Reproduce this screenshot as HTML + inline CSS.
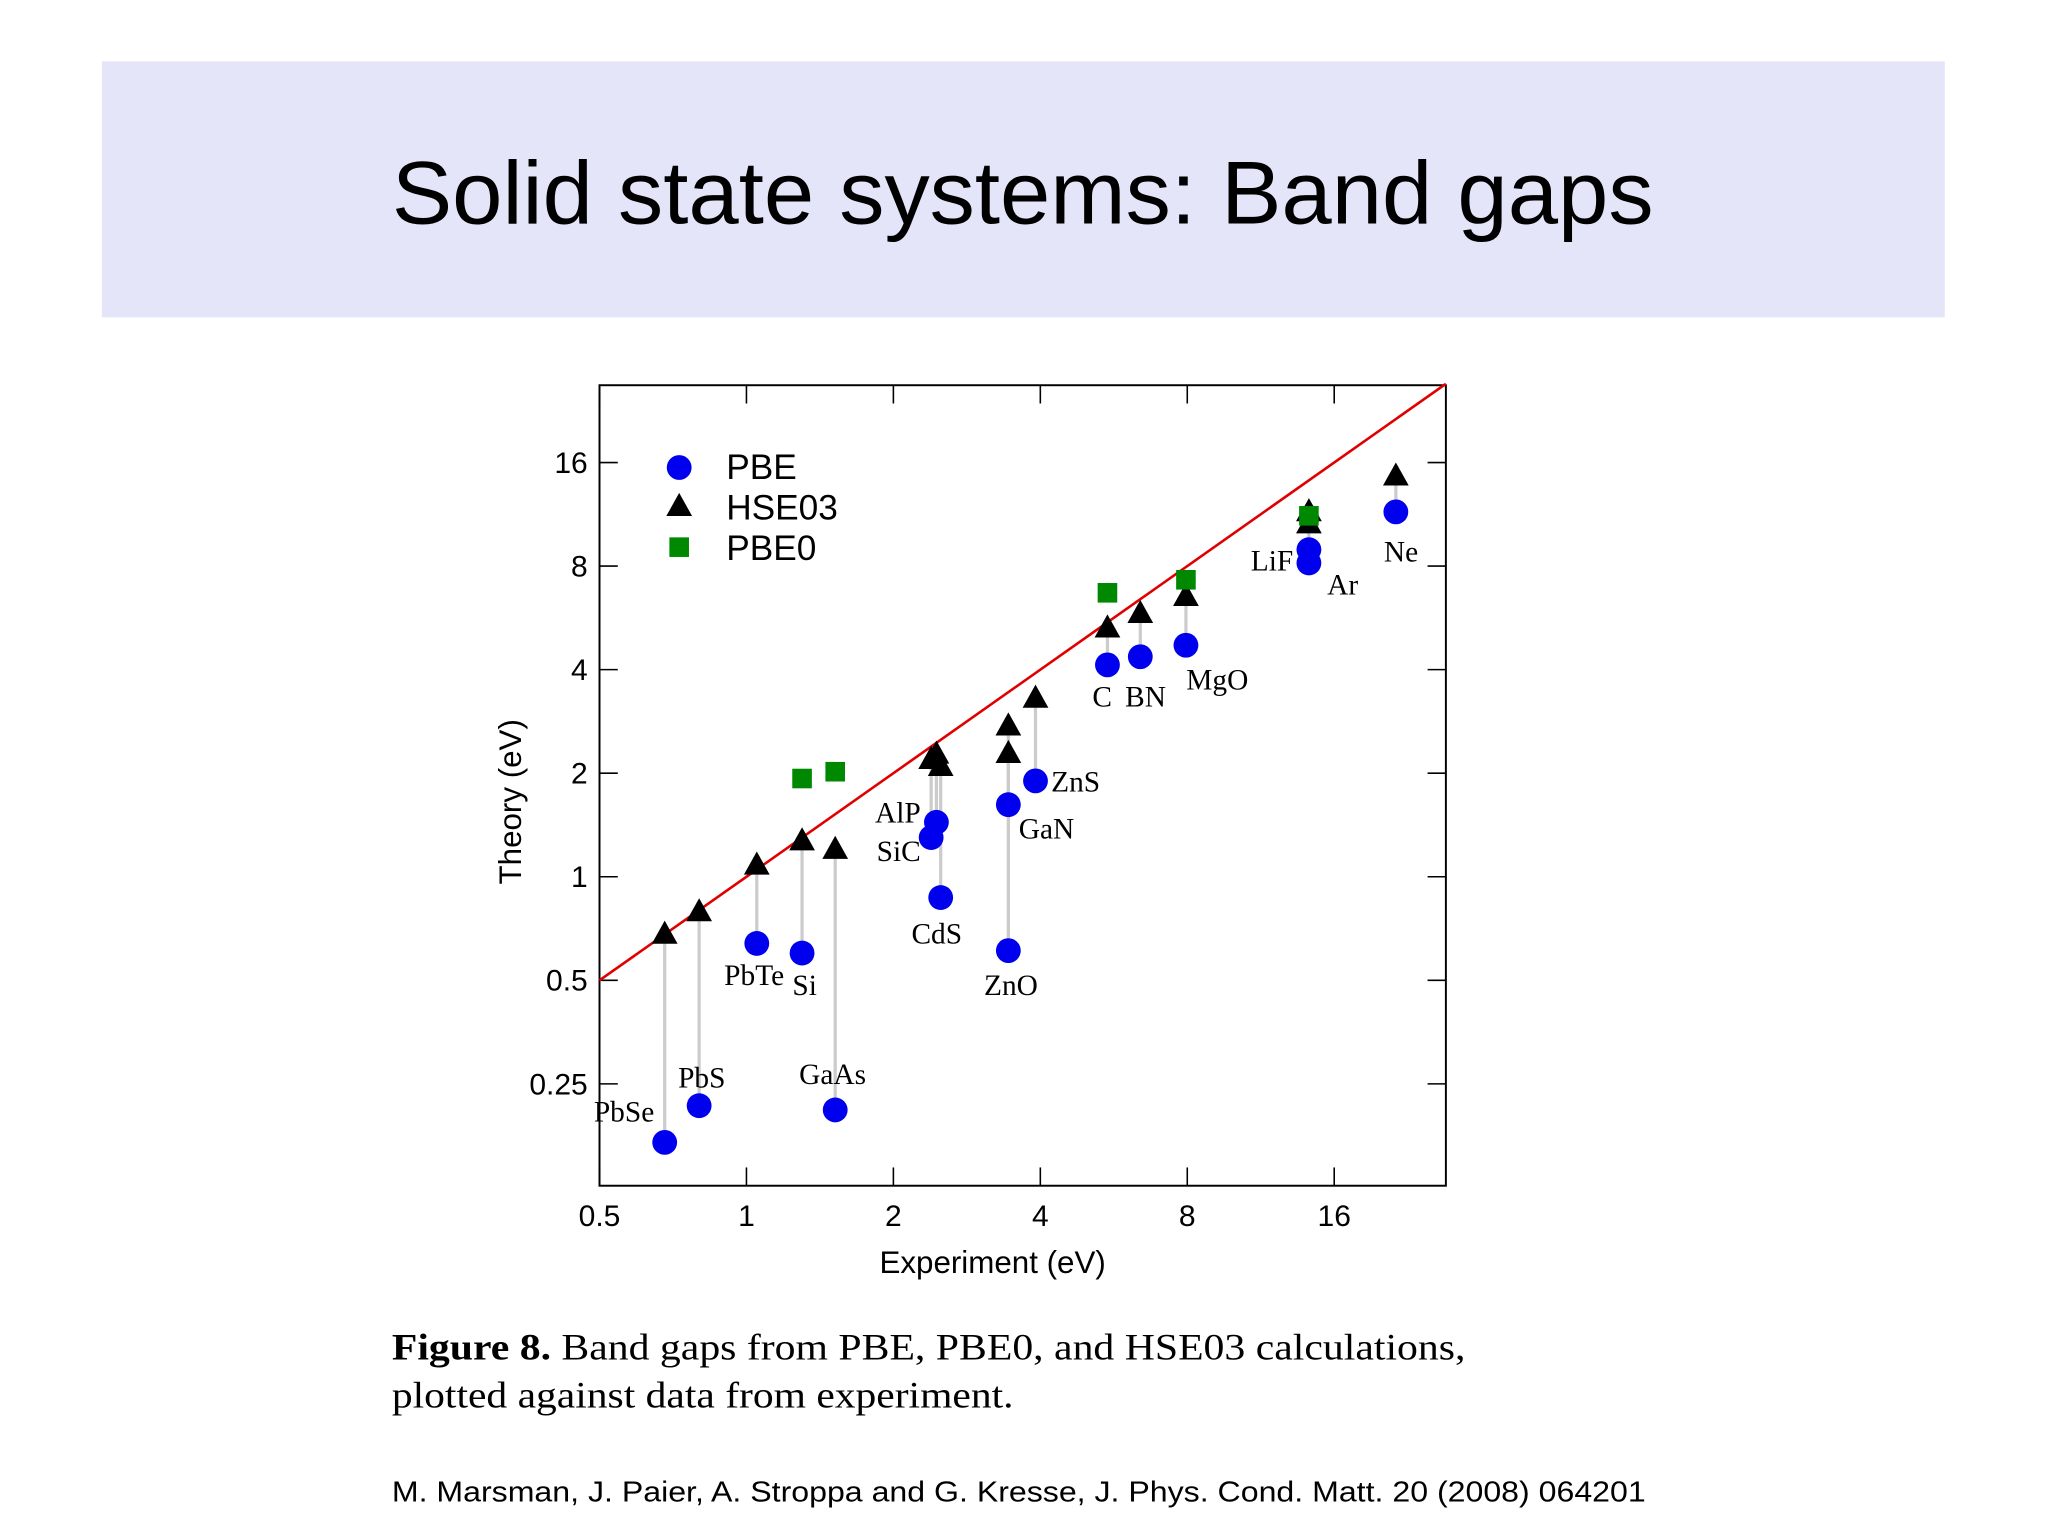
<!DOCTYPE html>
<html><head><meta charset="utf-8"><style>
html,body{margin:0;padding:0;background:#fff;}
svg{display:block;}
</style></head><body>
<svg width="2048" height="1537" viewBox="0 0 1568 1177" preserveAspectRatio="none" xmlns="http://www.w3.org/2000/svg">
<rect x="78" y="47" width="1411" height="196" fill="#e5e5fa"/>
<text x="783" y="171" text-anchor="middle" font-family="Liberation Sans, sans-serif" font-size="68" textLength="966" lengthAdjust="spacingAndGlyphs">Solid state systems: Band gaps</text>
<g id="chart"></g>
<text x="300" y="1041" font-family="Liberation Serif, serif" font-size="28" textLength="822" lengthAdjust="spacingAndGlyphs"><tspan font-weight="bold">Figure 8.</tspan> Band gaps from PBE, PBE0, and HSE03 calculations,</text>
<text x="300" y="1078" font-family="Liberation Serif, serif" font-size="28" textLength="476" lengthAdjust="spacingAndGlyphs">plotted against data from experiment.</text>
<text x="300" y="1150" font-family="Liberation Sans, sans-serif" font-size="22" textLength="960" lengthAdjust="spacingAndGlyphs">M. Marsman, J. Paier, A. Stroppa and G. Kresse, J. Phys. Cond. Matt. 20 (2008) 064201</text>
</svg>
<script>
const materials=['PbSe','PbS','PbTe','Si','GaAs','SiC','AlP','CdS','ZnO','GaN','ZnS','C','BN','MgO','LiF','Ar','Ne'];
const experiment=[0.68,0.80,1.05,1.30,1.52,2.39,2.45,2.50,3.44,3.44,3.91,5.49,6.41,7.95,14.2,14.2,21.4];
const pbe=[0.169,0.216,0.64,0.60,0.21,1.30,1.44,0.87,0.61,1.62,1.90,4.13,4.36,4.71,8.93,8.17,11.5];
const hse=[0.68,0.79,1.08,1.27,1.20,2.19,2.27,2.09,2.28,2.74,3.30,5.28,5.82,6.52,11.5,10.6,14.6];
const pbe0Idx=[3,4,11,13,14];
const pbe0=[1.93,2.02,6.69,7.30,11.2];
const xTicks=[0.5,1,2,4,8,16];
const yTicks=[0.25,0.5,1,2,4,8,16];
const labelOffsets={PbSe:[-8,-16,'end'],PbS:[2,-14,'middle'],PbTe:[-2,32,'middle'],Si:[2,32,'middle'],GaAs:[-2,-20,'middle'],SiC:[-8,18,'end'],AlP:[-12,0,'end'],CdS:[-3,35,'middle'],ZnO:[2,34,'middle'],GaN:[8,26,'start'],ZnS:[12,8,'start'],C:[-4,32,'middle'],BN:[4,38,'middle'],MgO:[24,34,'middle'],LiF:[-12,16,'end'],Ar:[14,24,'start'],Ne:[4,38,'middle']};
const L=459,R=1107,T=295,B=908,oct=112.5,octY=79.3;
const X=v=>L+Math.log2(v/0.5)*oct;
const Y=v=>830-Math.log2(v/0.25)*octY;
const NS='http://www.w3.org/2000/svg';
const g=document.getElementById('chart');
function mk(tag,attrs,parent){const e=document.createElementNS(NS,tag);for(const k in attrs)e.setAttribute(k,attrs[k]);(parent||g).appendChild(e);return e;}
let e=mk('rect',{x:L,y:T,width:R-L,height:B-T,fill:'none',stroke:'#000','stroke-width':1.5});


xTicks.forEach(v=>{const x=X(v);
 let t=mk('line',{x1:x,x2:x,y1:B,y2:B-14,stroke:'#000','stroke-width':1.2});
 
 
 t=mk('line',{x1:x,x2:x,y1:T,y2:T+14,stroke:'#000','stroke-width':1.2});
 
 
 const tx=mk('text',{x:x,y:B+31,'text-anchor':'middle','font-family':'Liberation Sans, sans-serif','font-size':23});
 tx.textContent=v;
 
 
});
yTicks.forEach(v=>{const y=Y(v);
 let t=mk('line',{x1:L,x2:L+14,y1:y,y2:y,stroke:'#000','stroke-width':1.2});
 
 
 t=mk('line',{x1:R,x2:R-14,y1:y,y2:y,stroke:'#000','stroke-width':1.2});
 
 
 const tx=mk('text',{x:L-9,y:y+8,'text-anchor':'end','font-family':'Liberation Sans, sans-serif','font-size':23});
 tx.textContent=v;
 
 
});
e=mk('text',{x:760,y:975,'text-anchor':'middle','font-family':'Liberation Sans, sans-serif','font-size':24});
e.textContent='Experiment (eV)';


e=mk('text',{x:399,y:614,'text-anchor':'middle','font-family':'Liberation Sans, sans-serif','font-size':24,transform:'rotate(-90 399 614)'});
e.textContent='Theory (eV)';


const xmax=0.5*Math.pow(2,(R-L)/oct);
e=mk('line',{x1:X(0.5),y1:Y(0.5),x2:X(xmax),y2:Y(xmax),stroke:'#e00000','stroke-width':2});


materials.forEach((m,i)=>{const x=X(experiment[i]);
 const c=mk('line',{x1:x,x2:x,y1:Y(pbe[i]),y2:Y(hse[i]),stroke:'#cccccc','stroke-width':2.5});
 
 
});
function tri(x,y,s,name){const p=mk('polygon',{points:`${x},${y-s*0.62} ${x-s*0.58},${y+s*0.42} ${x+s*0.58},${y+s*0.42}`,fill:'#000'});
 
 }
materials.forEach((m,i)=>{const x=X(experiment[i]);
 tri(x,Y(hse[i]),17,'hse03-point-'+m.toLowerCase());
 const c=mk('circle',{cx:x,cy:Y(pbe[i]),r:9.5,fill:'#0000ee'});
 
 
});
pbe0Idx.forEach((idx,j)=>{const x=X(experiment[idx]),y=Y(pbe0[j]);
 const s=mk('rect',{x:x-7.5,y:y-7.5,width:15,height:15,fill:'#008800'});
 
 
});
materials.forEach((m,i)=>{const o=labelOffsets[m];
 const t=mk('text',{x:X(experiment[i])+o[0],y:Y(pbe[i])+o[1],'text-anchor':o[2],'font-family':'Liberation Serif, serif','font-size':22.5});
 t.textContent=m;
 
 
});
e=mk('circle',{cx:520,cy:358,r:9.5,fill:'#0000ee'});


tri(520,388,17,'legend-hse03-marker');
e=mk('rect',{x:512.5,y:411.5,width:15,height:15,fill:'#008800'});


[['PBE',367],['HSE03',398],['PBE0',429]].forEach(([s,y])=>{const t=mk('text',{x:556,y:y,'font-family':'Liberation Sans, sans-serif','font-size':27});
 t.textContent=s;
 
 
});
</script>
</body></html>
